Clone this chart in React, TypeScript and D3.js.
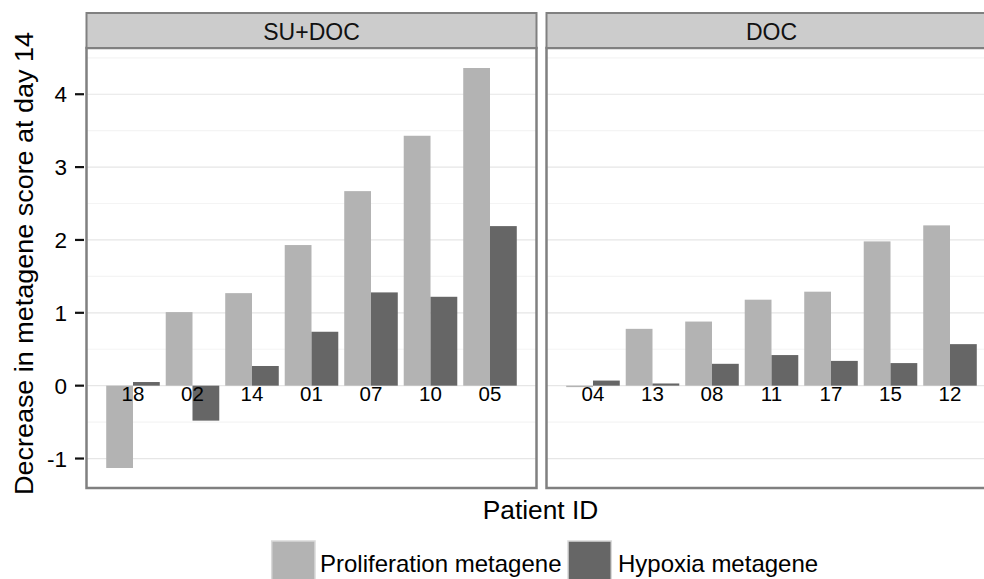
import React from "react";
import * as d3 from "d3";

const panels = ["SU+DOC", "DOC"];
const patientsSU = ["18", "02", "14", "01", "07", "10", "05"];
const proliferationSU = [-1.13, 1.01, 1.27, 1.93, 2.67, 3.43, 4.36];
const hypoxiaSU = [0.05, -0.48, 0.27, 0.74, 1.28, 1.22, 2.19];
const patientsDOC = ["04", "13", "08", "11", "17", "15", "12"];
const proliferationDOC = [-0.02, 0.78, 0.88, 1.18, 1.29, 1.98, 2.2];
const hypoxiaDOC = [0.07, 0.03, 0.3, 0.42, 0.34, 0.31, 0.57];
const seriesNames = ["Proliferation metagene", "Hypoxia metagene"];
const seriesColors = ["#b3b3b3", "#666666"];
const yTicks = [-1, 0, 1, 2, 3, 4];
const yMinor = [-0.5, 0.5, 1.5, 2.5, 3.5, 4.5];

const W = 984;
const H = 579;
const FONT = "'Liberation Sans', Arial, Helvetica, sans-serif";

export default function App() {
  const panelData = [
    { name: panels[0], ids: patientsSU, vals: [proliferationSU, hypoxiaSU], x0: 87 },
    { name: panels[1], ids: patientsDOC, vals: [proliferationDOC, hypoxiaDOC], x0: 547 },
  ];
  const panelW = 449;
  const top = 48;
  const bottom = 488;
  const stripTop = 13;

  const all = [...proliferationSU, ...hypoxiaSU, ...proliferationDOC, ...hypoxiaDOC];
  const [mn, mx] = d3.extent(all) as [number, number];
  const pad = (mx - mn) * 0.05;
  const y = d3.scaleLinear().domain([mn - pad, mx + pad]).range([bottom, top]);

  return (
    <svg width={W} height={H} style={{ position: "absolute", left: 0, top: 0, background: "#fff" }} fontFamily={FONT}>
      {panelData.map((p, pi) => {
        const x = d3.scaleBand<string>().domain(p.ids).range([p.x0, p.x0 + panelW]).paddingInner(0.1).paddingOuter(0.323);
        const xs = d3.scaleBand<string>().domain(seriesNames).range([0, x.bandwidth()]);
        return (
          <g key={pi}>
            <rect x={p.x0} y={top} width={panelW} height={bottom - top} fill="#fff" />
            {yMinor.map((t) => (
              <line key={"m" + t} x1={p.x0} x2={p.x0 + panelW} y1={y(t)} y2={y(t)} stroke="#f4f4f4" strokeWidth={1.2} />
            ))}
            {yTicks.map((t) => (
              <line key={"g" + t} x1={p.x0} x2={p.x0 + panelW} y1={y(t)} y2={y(t)} stroke="#e6e6e6" strokeWidth={1.2} />
            ))}
            {p.ids.map((id, i) =>
              p.vals.map((vals, si) => {
                const v = vals[i];
                const y0 = y(0);
                const yv = y(v);
                return (
                  <rect
                    key={id + si}
                    x={(x(id) as number) + (xs(seriesNames[si]) as number)}
                    width={xs.bandwidth()}
                    y={Math.min(y0, yv)}
                    height={Math.max(Math.abs(yv - y0), 0.8)}
                    fill={seriesColors[si]}
                  />
                );
              })
            )}
            {p.ids.map((id) => (
              <text key={"l" + id} x={(x(id) as number) + x.bandwidth() / 2} y={400.8} fontSize={20.5} textAnchor="middle" fill="#000">
                {id}
              </text>
            ))}
            <rect x={p.x0 - 0.5} y={top} width={panelW + 1} height={bottom - top} fill="none" stroke="#808080" strokeWidth={2.5} />
            <rect x={p.x0 - 0.5} y={stripTop} width={panelW + 1} height={top - stripTop} fill="#cccccc" stroke="#808080" strokeWidth={2} />
            <text x={p.x0 + panelW / 2} y={39.5} fontSize={23} textAnchor="middle" fill="#111">
              {p.name}
            </text>
          </g>
        );
      })}
      {yTicks.map((t) => (
        <g key={"t" + t}>
          <line x1={75} x2={84} y1={y(t)} y2={y(t)} stroke="#111" strokeWidth={2.2} />
          <text x={67} y={y(t)} dy="0.36em" fontSize={22.5} textAnchor="end" fill="#000">
            {t}
          </text>
        </g>
      ))}
      <text
        transform={`translate(33.3, 263.5) rotate(-90)`}
        fontSize={26}
        textAnchor="middle"
        fill="#000"
        textLength={463}
        lengthAdjust="spacingAndGlyphs"
      >
        Decrease in metagene score at day 14
      </text>
      <text x={540.5} y={519.3} fontSize={25} textAnchor="middle" fill="#000" textLength={115.6} lengthAdjust="spacingAndGlyphs">
        Patient ID
      </text>
      {seriesNames.map((s, i) => {
        const kx = [271.7, 568][i];
        const tx = [320, 618][i];
        return (
          <g key={"lg" + i}>
            <rect x={kx} y={541} width={43.3} height={43.3} fill={seriesColors[i]} stroke="#d9d9d9" strokeWidth={1.5} />
            <text x={tx} y={571.7} fontSize={24} fill="#000">
              {s}
            </text>
          </g>
        );
      })}
    </svg>
  );
}
